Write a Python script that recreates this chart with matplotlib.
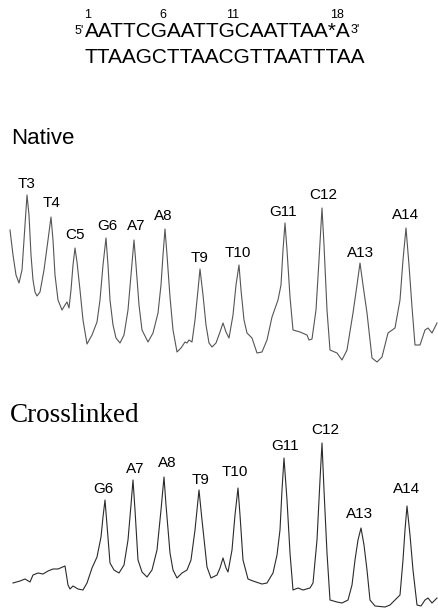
import matplotlib
matplotlib.use("Agg")
import matplotlib.pyplot as plt

# densitometer traces (x, y in image pixels, y down)
native_x = [10, 13, 16, 19, 22, 24, 27, 29, 31, 33, 35, 37, 40, 44, 48, 51, 53, 55, 58, 62,
            65, 67, 69, 71, 73, 75, 77, 80, 83, 87, 92, 97, 100, 103, 106,
            108, 110, 113, 116, 120, 124, 128, 131, 134, 136, 139, 142, 148, 153, 158, 161, 163,
            165, 167, 170, 173, 177, 181, 185, 187, 189, 192, 195, 198, 200,
            203, 206, 209, 212, 216, 220, 223, 226, 229, 233, 236, 239, 241, 244, 247, 252, 257,
            262, 267, 272, 278, 281, 283, 285, 287, 290, 293, 300, 307, 309,
            312, 316, 319, 322, 324, 327, 330, 337, 342, 347, 353, 357, 360, 363, 367, 372, 377,
            382, 388, 395, 400, 403, 406, 409, 412, 415, 420, 425, 428, 432, 437]
native_y = [230, 255, 275, 283, 270, 240, 195, 215, 255, 280, 292, 296, 292, 270, 240, 217, 240, 275, 300, 310,
            305, 302, 308, 290, 265, 248, 262, 290, 320, 344, 335, 322, 300, 265, 238,
            265, 300, 325, 338, 343, 335, 310, 275, 240, 265, 305, 330, 342, 333, 313, 285, 255,
            229, 255, 297, 330, 352, 348, 342, 343, 340, 342, 320, 290, 269,
            295, 325, 343, 347, 343, 332, 323, 332, 338, 315, 285, 265, 290, 320, 333, 338, 353,
            352, 340, 317, 300, 285, 250, 223, 250, 297, 330, 332, 335, 340,
            339, 310, 260, 208, 245, 310, 350, 353, 360, 350, 313, 285, 263, 285, 313, 358, 362,
            357, 333, 328, 300, 260, 228, 265, 307, 345, 345, 330, 328, 333, 323]

cross_x = [13, 20, 25, 30, 33, 38, 43, 48, 53, 58, 65, 68, 70, 73, 78, 83, 87, 92, 97, 101, 103,
           105, 107, 110, 114, 119, 124, 128, 131, 133, 135, 138, 142, 147, 152, 157, 161,
           164, 166, 170, 173, 177, 182, 187, 191, 195, 199, 202, 207, 211, 217, 220, 223,
           226, 228, 232, 235, 238, 240, 243, 248, 253, 262, 267, 273, 277, 280, 282,
           284, 287, 290, 293, 298, 303, 310, 313, 317, 320, 322, 324, 327, 330, 337, 342,
           348, 352, 355, 358, 361, 364, 367, 370, 375, 385, 390, 395, 400, 403, 405,
           407, 410, 413, 417, 421, 425, 428, 432, 437]
cross_y = [583, 581, 579, 582, 575, 573, 574, 571, 569, 569, 566, 585, 589, 586, 589, 590, 583, 568, 557, 537, 517,
           500, 525, 563, 570, 573, 565, 540, 505, 480, 510, 560, 572, 577, 570, 550, 510,
           477, 505, 553, 570, 578, 573, 570, 560, 530, 490, 520, 567, 578, 575, 568, 558,
           568, 572, 550, 515, 488, 515, 560, 579, 581, 584, 583, 573, 555, 530, 490,
           458, 500, 553, 590, 588, 590, 588, 583, 540, 480, 443, 490, 553, 600, 602, 603,
           600, 585, 560, 540, 528, 545, 570, 600, 606, 607, 605, 600, 595, 560, 530,
           506, 535, 570, 605, 606, 600, 598, 603, 598]

# peak labels: (text, x centre, baseline y)
native_labels = ["T3", "T4", "C5", "G6", "A7", "A8", "T9", "T10", "G11", "C12", "A13", "A14"]
native_lx = [27, 52, 75, 107, 136, 163, 200, 238, 283, 323, 361, 406]
native_ly = [188, 207, 239, 230, 230, 220, 262, 257, 216, 199, 257, 219]

cross_labels = ["G6", "A7", "A8", "T9", "T10", "G11", "C12", "A13", "A14"]
cross_lx = [103, 135, 167, 201, 235, 285, 325, 360, 407]
cross_ly = [493, 473, 467, 484, 476, 450, 434, 518, 493]

strand_top = "AATTCGAATTGCAATTAA*A"
strand_bottom = "TTAAGCTTAACGTTAATTTAA"
pos_labels = ["1", "6", "11", "18"]
pos_x = [88, 163, 233, 337]

sans = "Liberation Sans"
serif = "Liberation Serif"

fig = plt.figure(figsize=(4.39, 6.09), dpi=100)
ax = fig.add_axes([0, 0, 1, 1])
ax.set_xlim(0, 439)
ax.set_ylim(609, 0)
ax.axis("off")

ax.plot(native_x, native_y, color="#555555", lw=0.8)
ax.plot(cross_x, cross_y, color="#2a2a2a", lw=0.8)

for t, x, y in zip(native_labels, native_lx, native_ly):
    ax.text(x, y, t, ha="center", va="baseline", fontsize=11, family=sans)
for t, x, y in zip(cross_labels, cross_lx, cross_ly):
    ax.text(x, y, t, ha="center", va="baseline", fontsize=11, family=sans)

# sequence header
for t, x in zip(pos_labels, pos_x):
    ax.text(x, 18, t, ha="center", va="baseline", fontsize=9, family=sans)
top = ax.text(85, 37, strand_top, ha="left", va="baseline", fontsize=15, family=sans)
ax.text(84, 34, "5'", ha="right", va="baseline", fontsize=9, family=sans)
ax.annotate("3'", xy=(1.0, 0.92), xycoords=top, ha="left", va="top",
            fontsize=9, family=sans)
ax.text(85, 63, strand_bottom, ha="left", va="baseline", fontsize=15, family=sans)

ax.text(11, 144, "Native", ha="left", va="baseline", fontsize=16, family=sans)
ax.text(10, 422, "Crosslinked", ha="left", va="baseline", fontsize=19.5, family=serif)

fig.savefig("out.png", dpi=100)
